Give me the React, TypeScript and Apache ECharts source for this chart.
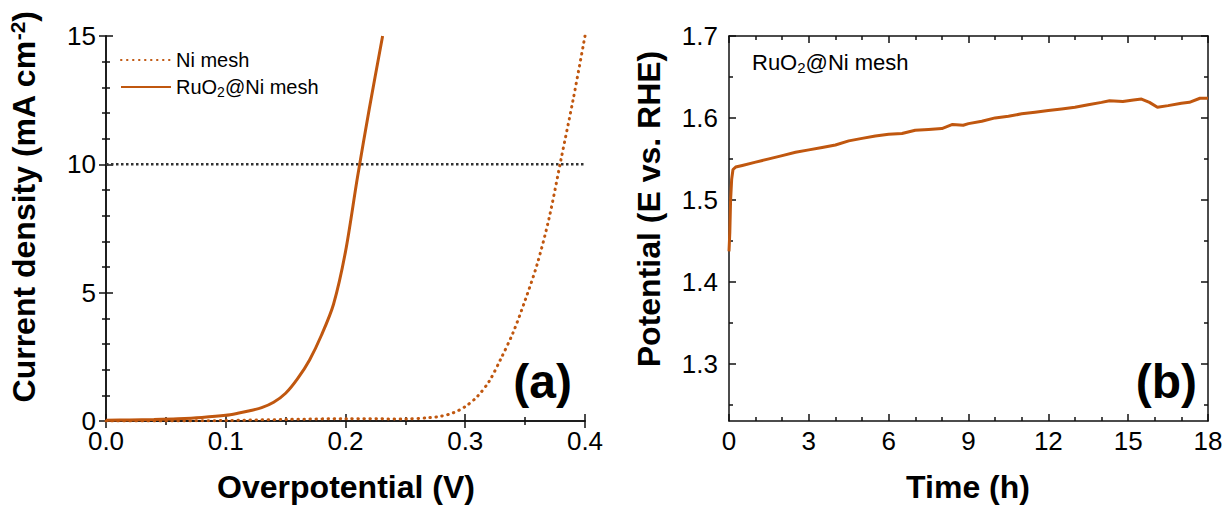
import React, { useEffect, useRef } from 'react';
import * as echarts from 'echarts';

const FONT = '"Liberation Sans", Arial, Helvetica, sans-serif';
const ORANGE = '#c0570f';
const AXIS_COLOR = '#111';

// (a) LSV curves
const niX = [0, 0.05, 0.10, 0.15, 0.20, 0.25, 0.27, 0.28, 0.29, 0.30, 0.31, 0.32, 0.33, 0.34, 0.35, 0.36, 0.37, 0.38, 0.39, 0.40];
const niY = [0.0, 0.0, 0.02, 0.06, 0.09, 0.08, 0.13, 0.19, 0.32, 0.56, 0.95, 1.55, 2.45, 3.45, 4.70, 6.10, 7.90, 10.2, 12.5, 15.0];
const ruX = [0, 0.02, 0.04, 0.06, 0.08, 0.10, 0.11, 0.12, 0.13, 0.14, 0.15, 0.16, 0.17, 0.18, 0.19, 0.20, 0.21, 0.22, 0.231];
const ruY = [0.03, 0.04, 0.06, 0.09, 0.14, 0.22, 0.30, 0.40, 0.52, 0.73, 1.08, 1.65, 2.38, 3.35, 4.55, 6.6, 9.5, 12.2, 15.0];
const refLevel = 10;

// (b) chronopotentiometry
const timeH = [0.00, 0.03, 0.06, 0.10, 0.15, 0.25, 0.5, 1.0, 1.5, 2.0, 2.5, 3.0, 3.5, 4.0, 4.5, 5.0, 5.5, 6.0, 6.5, 7.0, 7.5, 8.0, 8.4, 8.8, 9.0, 9.5, 10.0, 10.5, 11.0, 11.5, 12.0, 12.5, 13.0, 13.5, 14.0, 14.3, 14.8, 15.2, 15.5, 15.8, 16.1, 16.5, 17.0, 17.3, 17.7, 18.0];
const potential = [1.437, 1.46, 1.50, 1.525, 1.537, 1.540, 1.542, 1.546, 1.550, 1.554, 1.558, 1.561, 1.564, 1.567, 1.572, 1.575, 1.578, 1.580, 1.581, 1.585, 1.586, 1.587, 1.592, 1.591, 1.593, 1.596, 1.600, 1.602, 1.605, 1.607, 1.609, 1.611, 1.613, 1.616, 1.619, 1.621, 1.620, 1.622, 1.623, 1.619, 1.613, 1.615, 1.618, 1.619, 1.624, 1.624];

const yMajorB = [1.3, 1.4, 1.5, 1.6, 1.7];
const yMinorB = [1.25, 1.35, 1.45, 1.55, 1.65];

const zip = (a: number[], b: number[]) => a.map((v, i) => [v, b[i]]);

const axisLine = { show: true, lineStyle: { color: AXIS_COLOR, width: 1.5 } };
const tick = (len: number, custom?: number[]) => ({
  show: true, inside: true, length: len, lineStyle: { color: AXIS_COLOR, width: 1.5 },
  ...(custom ? { customValues: custom } : {}),
});
const minor = (n: number) => ({ show: true, splitNumber: n, length: 4, lineStyle: { color: AXIS_COLOR, width: 1.5 } });
const label = (margin: number, fmt: (v: number) => string, custom?: number[]) => ({
  show: true, fontSize: 26, lineHeight: 18, color: '#000', fontFamily: FONT, margin, formatter: fmt,
  ...(custom ? { customValues: custom } : {}),
});
const noLabel = { show: false };
const noSplit = { show: false };

export default function App() {
  const ref = useRef<HTMLDivElement>(null);
  useEffect(() => {
    document.body.style.margin = '0';
    const chart = echarts.init(ref.current!, null, { renderer: 'svg' });
    const titleStyle = { fontSize: 32, fontWeight: 'bold' as const, fontFamily: FONT, fill: '#000', align: 'center' as const, verticalAlign: 'middle' as const };
    const option: any = {
      animation: false,
      backgroundColor: '#fff',
      grid: [
        { left: 106, top: 36, width: 479, height: 385 },
        { left: 729, top: 36, width: 479, height: 385 },
      ],
      xAxis: [
        { type: 'value', gridIndex: 0, position: 'bottom', min: 0, max: 0.4, interval: 0.1, axisLine, axisTick: tick(7), minorTick: minor(2), splitLine: noSplit, minorSplitLine: noSplit, axisLabel: label(11, (v: number) => v.toFixed(1)) },
        { type: 'value', gridIndex: 0, position: 'top', min: 0, max: 0.4, interval: 0.1, axisLine, axisTick: tick(7), minorTick: minor(2), splitLine: noSplit, axisLabel: noLabel },
        { type: 'value', gridIndex: 1, position: 'bottom', min: 0, max: 18, interval: 3, axisLine, axisTick: tick(7), minorTick: minor(3), splitLine: noSplit, axisLabel: label(11, (v: number) => String(v)) },
        { type: 'value', gridIndex: 1, position: 'top', min: 0, max: 18, interval: 3, axisLine, axisTick: tick(7), minorTick: minor(3), splitLine: noSplit, axisLabel: noLabel },
      ],
      yAxis: [
        { type: 'value', gridIndex: 0, position: 'left', min: 0, max: 15, interval: 5, axisLine, axisTick: tick(7), minorTick: minor(5), splitLine: noSplit, axisLabel: label(10, (v: number) => String(v)) },
        { type: 'value', gridIndex: 0, position: 'right', min: 0, max: 15, interval: 5, axisLine, axisTick: tick(7), minorTick: minor(5), splitLine: noSplit, axisLabel: noLabel },
        { type: 'value', gridIndex: 1, position: 'left', min: 1.23, max: 1.7, axisLine, axisTick: tick(7, yMajorB), splitLine: noSplit, axisLabel: label(11, (v: number) => v.toFixed(1), yMajorB) },
        { type: 'value', gridIndex: 1, position: 'left', min: 1.23, max: 1.7, axisLine: { show: false }, axisTick: tick(4, yMinorB), splitLine: noSplit, axisLabel: noLabel },
        { type: 'value', gridIndex: 1, position: 'right', min: 1.23, max: 1.7, axisLine, axisTick: tick(7, yMajorB), splitLine: noSplit, axisLabel: noLabel },
        { type: 'value', gridIndex: 1, position: 'right', min: 1.23, max: 1.7, axisLine: { show: false }, axisTick: tick(4, yMinorB), splitLine: noSplit, axisLabel: noLabel },
      ],
      legend: {
        data: ['Ni mesh', 'RuO2@Ni mesh'],
        orient: 'vertical',
        left: 115,
        top: 45,
        itemWidth: 50,
        itemHeight: 14,
        itemGap: 7,
        itemStyle: { color: 'rgba(0,0,0,0)', borderColor: 'rgba(0,0,0,0)', borderWidth: 0, opacity: 0 },
        formatter: (name: string) => (name === 'RuO2@Ni mesh' ? '{t|RuO}{s|2}{t|@Ni mesh}' : '{t|Ni mesh}'),
        textStyle: {
          fontFamily: FONT,
          fontSize: 20,
          color: '#000',
          rich: {
            t: { fontFamily: FONT, fontSize: 20, color: '#000' },
            s: { fontFamily: FONT, fontSize: 14, color: '#000', padding: [9, 0, 0, 0] },
          },
        },
      },
      series: [
        {
          name: 'ref', type: 'line', xAxisIndex: 0, yAxisIndex: 0, symbol: 'none', silent: true,
          data: [[0, refLevel], [0.4, refLevel]],
          lineStyle: { color: '#333', width: 2.5, type: [2.5, 2.5] },
        },
        {
          name: 'Ni mesh', type: 'line', xAxisIndex: 0, yAxisIndex: 0, symbol: 'none', smooth: 0.3,
          data: zip(niX, niY),
          itemStyle: { color: ORANGE },
          lineStyle: { color: ORANGE, width: 3, type: [0.5, 5.5], cap: 'round' },
        },
        {
          name: 'RuO2@Ni mesh', type: 'line', xAxisIndex: 0, yAxisIndex: 0, symbol: 'none', smooth: 0.3,
          data: zip(ruX, ruY),
          itemStyle: { color: ORANGE },
          lineStyle: { color: ORANGE, width: 3 },
        },
        {
          name: 'stability', type: 'line', xAxisIndex: 2, yAxisIndex: 2, symbol: 'none',
          data: zip(timeH, potential),
          itemStyle: { color: ORANGE },
          lineStyle: { color: ORANGE, width: 3 },
        },
      ],
      graphic: [
        { type: 'text', x: 24, y: 207, rotation: Math.PI / 2, style: { ...titleStyle, text: 'Current density (mA cm{sup|-2})', rich: { sup: { fontSize: 21, fontWeight: 'bold', fontFamily: FONT, fill: '#000', padding: [0, 0, 14, 0] } } } },
        { type: 'text', x: 346, y: 487, style: { ...titleStyle, text: 'Overpotential (V)' } },
        { type: 'text', x: 649, y: 209, rotation: Math.PI / 2, style: { ...titleStyle, text: 'Potential (E vs. RHE)' } },
        { type: 'text', x: 968, y: 487, style: { ...titleStyle, text: 'Time (h)' } },
        { type: 'text', x: 572, y: 381, style: { text: '(a)', fontSize: 48, fontWeight: 'bold', fontFamily: FONT, fill: '#000', align: 'right', verticalAlign: 'middle' } },
        { type: 'text', x: 1197, y: 381, style: { text: '(b)', fontSize: 48, fontWeight: 'bold', fontFamily: FONT, fill: '#000', align: 'right', verticalAlign: 'middle' } },
        {
          type: 'text', x: 752, y: 62,
          style: {
            text: '{t|RuO}{s|2}{t|@Ni mesh}', align: 'left', verticalAlign: 'middle', fontFamily: FONT, fontSize: 22, fill: '#000',
            rich: {
              t: { fontFamily: FONT, fontSize: 22, fill: '#000' },
              s: { fontFamily: FONT, fontSize: 15, fill: '#000', padding: [10, 0, 0, 0] },
            },
          },
        },
      ],
    };
    chart.setOption(option);
    return () => chart.dispose();
  }, []);
  return <div ref={ref} style={{ width: 1229, height: 510 }} />;
}
